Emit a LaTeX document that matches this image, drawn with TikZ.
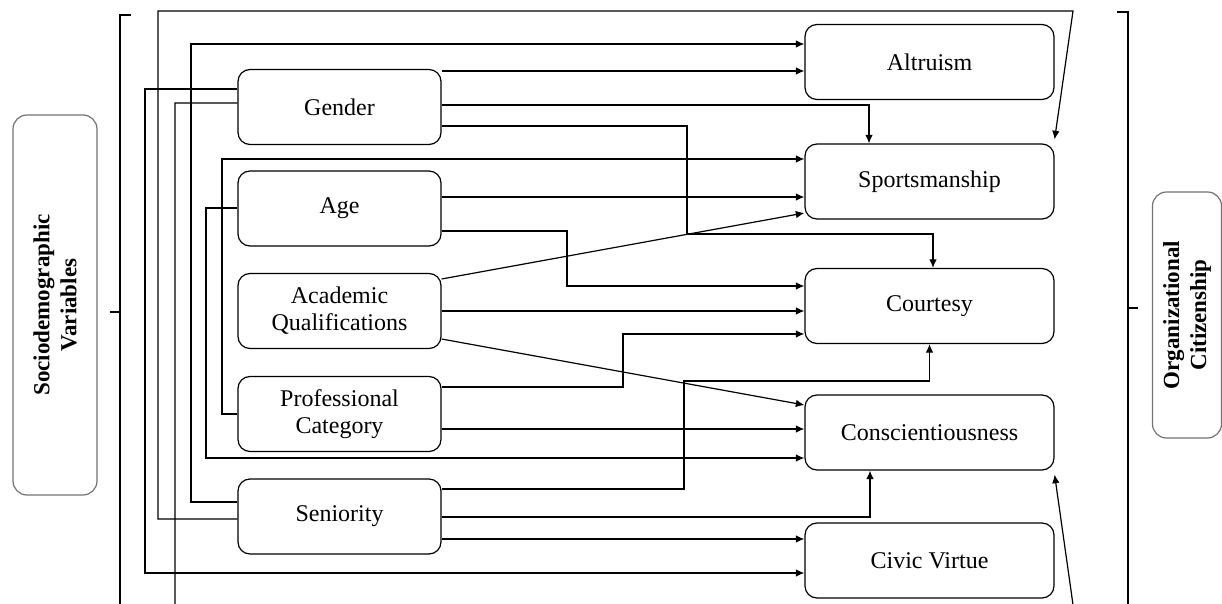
\documentclass[tikz,border=0pt]{standalone}
\usepackage{fontspec}
\setmainfont{Liberation Serif}
\usepackage{tikz}
\usetikzlibrary{arrows.meta}

\begin{document}
\begin{tikzpicture}[x=0.5pt,y=-0.5pt,line width=0.6pt,line join=miter,>={Latex[length=4.3pt,width=3.8pt]}]
	\tikzstyle{var}=[draw,rounded corners=6pt,align=center,font=\fontsize{12}{13.5}\selectfont,inner sep=2pt];
	\tikzstyle{pred}=[var,minimum width=101.5pt,minimum height=37.5pt];
	\tikzstyle{ocb}=[var,minimum width=124.5pt,minimum height=37.5pt];
	\tikzstyle{label}=[draw=black!55,rounded corners=7pt,align=center,rotate=90,font=\fontsize{11.5}{13.5}\selectfont\bfseries];
	\tikzstyle{link}=[->];
	\tikzstyle{brace}=[line width=1.1pt];

	\useasboundingbox (0,0) rectangle (1222,604);
	\clip (0,0) rectangle (1222,604);

	% side labels and brackets
	\node[label,minimum width=190pt,minimum height=42pt] (socio) at (55,305) {Sociodemographic\\Variables};
	\node[label,minimum width=123pt,minimum height=34.5pt] (ocit) at (1187,315) {Organizational\\Citizenship};
	\draw[brace] (131,15) -- (120,15) -- (120,610);
	\draw[brace] (120,312) -- (110,312);
	\draw[brace] (1117,12) -- (1128,12) -- (1128,610);
	\draw[brace] (1128,308) -- (1138,308);

	% predictors
	\node[pred] (gender) at (339.5,107) {Gender};
	\node[pred] (age) at (339.5,208.5) {Age};
	\node[pred] (acad) at (339.5,311) {Academic\\Qualifications};
	\node[pred] (prof) at (339.5,414) {Professional\\Category};
	\node[pred] (senior) at (339.5,516.5) {Seniority};

	% dimensions
	\node[ocb] (altru) at (929.5,62) {Altruism};
	\node[ocb] (sports) at (929.5,181.5) {Sportsmanship};
	\node[ocb] (court) at (929.5,306) {Courtesy};
	\node[ocb] (consc) at (929.5,432.5) {Conscientiousness};
	\node[ocb] (civic) at (929.5,560.5) {Civic Virtue};

	% gender
	\draw[link] (gender.east |- 0,71) -- (altru.west |- 0,71);
	\draw[link] (gender.east |- 0,105) -| (869,0 |- sports.north);
	\draw[link] (gender.east |- 0,126) -| (687,234) -| (933,0 |- court.north);
	\draw[link] (gender.west |- 0,89) -| (145,573) -- (civic.west |- 0,573);
	\draw[link] (gender.west |- 0,103) -| (175,640) -- (1078,640) -- ([yshift=-2pt]consc.south east);

	% age
	\draw[link] (age.east |- 0,197) -- (sports.west |- 0,197);
	\draw[link] (age.east |- 0,231) -| (567,286) -- (court.west |- 0,286);
	\draw[link] (age.west |- 0,208) -| (206,458) -- (consc.west |- 0,458);

	% academic qualifications
	\draw[link] (acad.east |- 0,279) -- (sports.west |- 0,213);
	\draw[link] (acad.east |- 0,311) -- (court.west |- 0,311);
	\draw[link] (acad.east |- 0,339) -- (consc.west |- 0,405);

	% professional category
	\draw[link] (prof.west |- 0,414) -| (222,159) -- (sports.west |- 0,159);
	\draw[link] (prof.east |- 0,387) -| (623,334) -- (court.west |- 0,334);
	\draw[link] (prof.east |- 0,429) -- (consc.west |- 0,429);

	% seniority
	\draw[link] (senior.west |- 0,502) -| (191,44) -- (altru.west |- 0,44);
	\draw[link] (senior.west |- 0,519) -| (158,11) -- (1073,11) -- ([yshift=2pt]sports.north east);
	\draw[link] (senior.east |- 0,489) -| (684,381) -| (court.south);
	\draw[link] (senior.east |- 0,517) -| (870,0 |- consc.south);
	\draw[link] (senior.east |- 0,539) -- (civic.west |- 0,539);
\end{tikzpicture}
\end{document}
